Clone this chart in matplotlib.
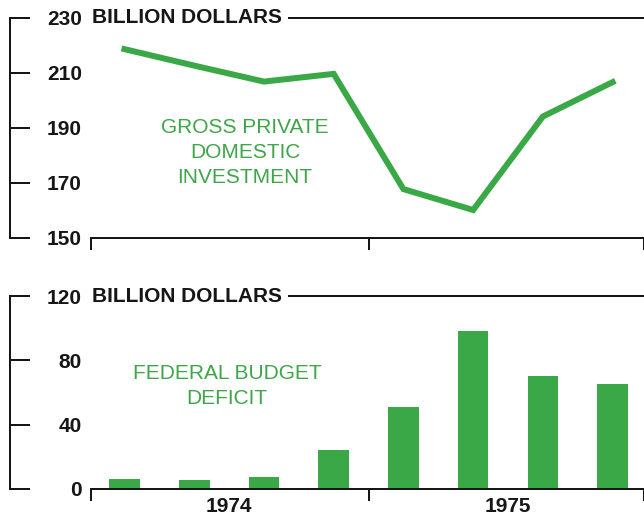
import numpy as np
import matplotlib
matplotlib.use("Agg")
from matplotlib import pyplot as plt

# quarterly values, 1974 Q1 .. 1975 Q4 (billion dollars, annual rate)
quarters = ["74Q1", "74Q2", "74Q3", "74Q4", "75Q1", "75Q2", "75Q3", "75Q4"]
years = ["1974", "1975"]
investment = [218.5, 212.5, 206.7, 209.5, 167.6, 160.0, 194.0, 206.5]
deficit = [6.0, 5.4, 7.3, 24.2, 50.8, 98.4, 70.3, 65.3]

GREEN = "#3aa847"
TEXT_GREEN = "#3ea548"
INK = "#161616"
DPI = 100
PX = 72 / DPI  # points per pixel

plt.rcParams["font.family"] = ["Liberation Sans", "DejaVu Sans"]

fig = plt.figure(figsize=(6.44, 5.22), dpi=DPI)
ax_top = fig.add_axes([91 / 644, 284.5 / 522, 553 / 644, 220 / 522])
ax_bot = fig.add_axes([91 / 644, 33 / 522, 553 / 644, 193 / 522])

x = np.arange(len(quarters))
x_lo, x_hi = -0.48, 7.45


def frame(ax, y_lo, y_hi, y_step):
    ax.set_xlim(x_lo, x_hi); ax.set_ylim(y_lo, y_hi)
    ax.spines["right"].set_visible(False)
    for s in ["top", "bottom", "left"]:
        ax.spines[s].set_linewidth(2 * PX); ax.spines[s].set_color(INK)
    ax.spines["left"].set_position(("outward", 81 * PX))
    ax.set_yticks(np.arange(y_lo, y_hi + 1, y_step))
    ax.tick_params(axis="y", direction="in", length=20 * PX, width=2 * PX, pad=-72 * PX,
                   labelsize=15, colors=INK)
    for t in ax.get_yticklabels(): t.set_fontweight("bold")
    ax.set_xticks([x_lo, 3.5, x_hi])
    ax.tick_params(axis="x", which="major", direction="out", length=12 * PX, width=2 * PX,
                   labelbottom=False, color=INK)
    ax.text(0.002, y_hi, "BILLION DOLLARS", transform=ax.get_yaxis_transform(), ha="left", va="center",
            fontsize=15, fontweight="bold", color=INK, zorder=5, clip_on=False,
            bbox=dict(boxstyle="square,pad=0.3", fc="white", ec="none"))


# gross private domestic investment
frame(ax_top, 150, 230, 20)
ax_top.plot(x, investment, color=GREEN, lw=6 * PX, solid_joinstyle="miter", clip_on=False)
ax_top.text(1.73, 181, "GROSS PRIVATE\nDOMESTIC\nINVESTMENT", ha="center", va="center",
            fontsize=15, color=TEXT_GREEN, linespacing=1.4)

# federal budget deficit
frame(ax_bot, 0, 120, 40)
ax_bot.bar(x, deficit, width=0.44, color=GREEN, zorder=1)
ax_bot.set_xticks([1.5, 5.5], minor=True)
ax_bot.set_xticklabels(years, minor=True, fontsize=15, fontweight="bold", color=INK)
ax_bot.tick_params(axis="x", which="minor", length=0, pad=8 * PX)
ax_bot.text(1.47, 64, "FEDERAL BUDGET\nDEFICIT", ha="center", va="center",
            fontsize=15, color=TEXT_GREEN, linespacing=1.4)

fig.savefig("out.png", dpi=DPI, facecolor="white")
